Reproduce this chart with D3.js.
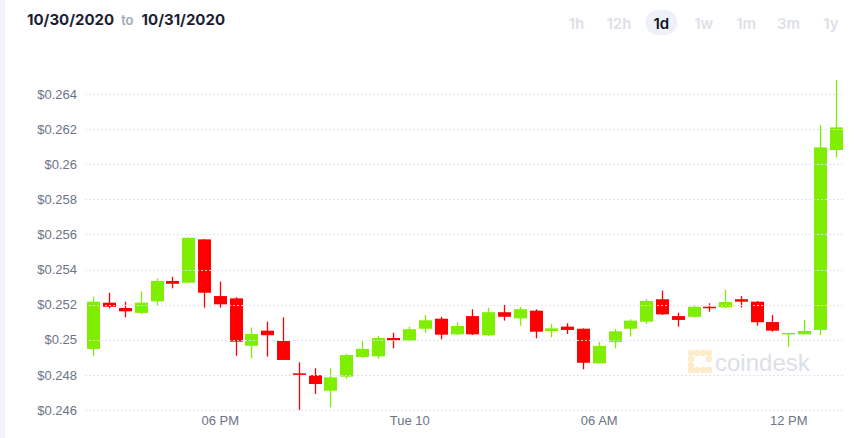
<!DOCTYPE html>
<html>
<head>
<meta charset="utf-8">
<script src="https://cdn.jsdelivr.net/npm/d3@7"></script>
<style>
  html, body { margin: 0; padding: 0; background: #fff; }
  body { width: 855px; height: 438px; overflow: hidden; }
  svg { display: block; }
</style>
</head>
<body>
<div id="chart"></div>
<script>
var width = 855
var height = 438

// half hour candles, Mon 9 Nov 14:00 -> Tue 10 Nov 13:30
var times = [
  "2020-11-09T14:00", "2020-11-09T14:30", "2020-11-09T15:00", "2020-11-09T15:30",
  "2020-11-09T16:00", "2020-11-09T16:30", "2020-11-09T17:00", "2020-11-09T17:30",
  "2020-11-09T18:00", "2020-11-09T18:30", "2020-11-09T19:00", "2020-11-09T19:30",
  "2020-11-09T20:00", "2020-11-09T20:30", "2020-11-09T21:00", "2020-11-09T21:30",
  "2020-11-09T22:00", "2020-11-09T22:30", "2020-11-09T23:00", "2020-11-09T23:30",
  "2020-11-10T00:00", "2020-11-10T00:30", "2020-11-10T01:00", "2020-11-10T01:30",
  "2020-11-10T02:00", "2020-11-10T02:30", "2020-11-10T03:00", "2020-11-10T03:30",
  "2020-11-10T04:00", "2020-11-10T04:30", "2020-11-10T05:00", "2020-11-10T05:30",
  "2020-11-10T06:00", "2020-11-10T06:30", "2020-11-10T07:00", "2020-11-10T07:30",
  "2020-11-10T08:00", "2020-11-10T08:30", "2020-11-10T09:00", "2020-11-10T09:30",
  "2020-11-10T10:00", "2020-11-10T10:30", "2020-11-10T11:00", "2020-11-10T11:30",
  "2020-11-10T12:00", "2020-11-10T12:30", "2020-11-10T13:00", "2020-11-10T13:30"
]
var open = [
  0.24948, 0.25211, 0.25181, 0.25153, 0.25219, 0.25335, 0.25325, 0.25572,
  0.25249, 0.25236, 0.24966, 0.25052, 0.24993, 0.24809, 0.24799, 0.24710,
  0.24790, 0.24902, 0.24906, 0.25010, 0.24995, 0.25063, 0.25120, 0.25031,
  0.25135, 0.25026, 0.25157, 0.25122, 0.25166, 0.25050, 0.25075, 0.25063,
  0.24866, 0.24987, 0.25063, 0.25103, 0.25231, 0.25135, 0.25131, 0.25188,
  0.25185, 0.25231, 0.25217, 0.25101, 0.25031, 0.25031, 0.25056, 0.26081
]
var high = [
  0.25245, 0.25268, 0.25217, 0.25276, 0.25350, 0.25359, 0.25582, 0.25572,
  0.25331, 0.25242, 0.25071, 0.25103, 0.25128, 0.24872, 0.24838, 0.24838,
  0.24919, 0.24993, 0.25022, 0.25040, 0.25075, 0.25141, 0.25131, 0.25100,
  0.25174, 0.25183, 0.25198, 0.25188, 0.25174, 0.25090, 0.25094, 0.25065,
  0.24989, 0.25061, 0.25117, 0.25232, 0.25280, 0.25154, 0.25198, 0.25208,
  0.25284, 0.25249, 0.25221, 0.25141, 0.25039, 0.25113, 0.26223, 0.26480
]
var low = [
  0.24909, 0.25179, 0.25128, 0.25147, 0.25192, 0.25293, 0.25322, 0.25183,
  0.25183, 0.24909, 0.24895, 0.24904, 0.24885, 0.24600, 0.24691, 0.24615,
  0.24778, 0.24898, 0.24891, 0.24951, 0.24991, 0.25040, 0.25003, 0.25027,
  0.25027, 0.25022, 0.25109, 0.25080, 0.25008, 0.25014, 0.25033, 0.24832,
  0.24866, 0.24951, 0.25018, 0.25090, 0.25141, 0.25075, 0.25126, 0.25160,
  0.25181, 0.25183, 0.25080, 0.25046, 0.24961, 0.25031, 0.25027, 0.26039
]
var close = [
  0.25217, 0.25188, 0.25162, 0.25211, 0.25335, 0.25319, 0.25581, 0.25268,
  0.25202, 0.24989, 0.25033, 0.25026, 0.24885, 0.24800, 0.24748, 0.24786,
  0.24913, 0.24948, 0.25010, 0.24997, 0.25060, 0.25111, 0.25029, 0.25079,
  0.25031, 0.25157, 0.25131, 0.25174, 0.25046, 0.25065, 0.25056, 0.24869,
  0.24965, 0.25048, 0.25109, 0.25221, 0.25145, 0.25113, 0.25188, 0.25183,
  0.25215, 0.25217, 0.25100, 0.25052, 0.25039, 0.25050, 0.26096, 0.26210
]

var yTicks = [0.246, 0.248, 0.25, 0.252, 0.254, 0.256, 0.258, 0.26, 0.262, 0.264]
var xTicks = ["2020-11-09T18:00", "2020-11-10T00:00", "2020-11-10T06:00", "2020-11-10T12:00"]
var xTickLabels = ["06 PM", "Tue 10", "06 AM", "12 PM"]
var ranges = ["1h", "12h", "1d", "1w", "1m", "3m", "1y"]
var activeRange = "1d"
var dateFrom = "10/30/2020"
var dateTo = "10/31/2020"

var parse = d3.timeParse("%Y-%m-%dT%H:%M")
var data = times.map((t, i) => ({
  t: parse(t), o: open[i], h: high[i], l: low[i], c: close[i]
}))

var GREEN = "#7fee00"
var RED = "#ff0000"

var svg = d3.select("#chart").append("svg")
    .attr("width", width)
    .attr("height", height)

// page strip on the left
svg.append("rect").attr("x", 0).attr("y", 0).attr("width", 5).attr("height", height).attr("fill", "#f0f3f8")

// header: date range
var head = svg.append("text").attr("x", 27).attr("y", 25)
    .style("font-family", "Inter, 'Open Sans', sans-serif")
head.append("tspan").text(dateFrom).attr("font-size", 15).attr("font-weight", 700).attr("fill", "#1b1e33")
head.append("tspan").text("to").attr("dx", 7).attr("font-size", 13).attr("font-weight", 600).attr("fill", "#a3a9b7")
head.append("tspan").text(dateTo).attr("dx", 8).attr("font-size", 15).attr("font-weight", 700).attr("fill", "#1b1e33")

// range buttons
var btnX = d3.scalePoint().domain(ranges).range([576.5, 831])
svg.append("rect")
    .attr("x", btnX(activeRange) - 16).attr("y", 10)
    .attr("width", 32).attr("height", 25).attr("rx", 12.5)
    .attr("fill", "#eef2f8")
svg.selectAll("text.rng").data(ranges).enter().append("text")
    .attr("class", "rng")
    .attr("x", d => btnX(d)).attr("y", 29)
    .attr("text-anchor", "middle")
    .style("font-family", "Inter, 'Open Sans', sans-serif")
    .attr("font-size", 15).attr("font-weight", 600)
    .attr("fill", d => d === activeRange ? "#111322" : "#dde0e8")
    .text(d => d)

// scales
var x = d3.scaleTime()
    .domain([parse("2020-11-09T13:44"), parse("2020-11-10T13:44")])
    .range([85, 843])
var y = d3.scaleLinear().domain([0.246, 0.264]).range([410, 94])

// watermark
var wm = svg.append("g").attr("opacity", 0.9)
var dots = [[691, 353], [697, 353], [703, 353], [709, 353], [691, 359], [691, 365], [691, 370], [697, 370], [703, 370], [709, 370], [709, 359]]
wm.selectAll("circle").data(dots).enter().append("circle")
    .attr("cx", d => d[0]).attr("cy", d => d[1]).attr("r", 3.2)
    .attr("fill", "#fdebc4")
wm.append("text").attr("x", 715).attr("y", 371)
    .style("font-family", "'Liberation Sans', Arial, sans-serif")
    .attr("font-size", 24).attr("fill", "#d9dce4")
    .text("coindesk")

// y axis labels
var yAxis = svg.append("g")
    .attr("transform", "translate(77,0)")
    .call(d3.axisLeft(y).tickValues(yTicks).tickSize(0).tickPadding(0)
      .tickFormat(d => "$" + (+d.toFixed(3))))
yAxis.select(".domain").remove()
yAxis.selectAll("text")
    .style("font-family", "'Liberation Sans', Arial, sans-serif")
    .attr("font-size", 13).attr("fill", "#6c7486")

// x axis labels
var xAxis = svg.append("g")
    .attr("transform", "translate(0,415.5)")
    .call(d3.axisBottom(x).tickValues(xTicks.map(parse)).tickSize(0).tickPadding(0)
      .tickFormat((d, i) => xTickLabels[i]))
xAxis.select(".domain").remove()
xAxis.selectAll("text")
    .style("font-family", "'Liberation Sans', Arial, sans-serif")
    .attr("font-size", 13).attr("fill", "#6c7486")

// candles
var bw = 13
var candles = svg.append("g").selectAll("g").data(data).enter().append("g")
candles.append("line")
    .attr("x1", d => Math.round(x(d.t)) + 0.5).attr("x2", d => Math.round(x(d.t)) + 0.5)
    .attr("y1", d => y(d.h)).attr("y2", d => y(d.l))
    .attr("stroke", d => d.c >= d.o ? GREEN : RED).attr("stroke-width", 1.3)
candles.append("rect")
    .attr("x", d => Math.round(x(d.t)) + 0.5 - bw / 2)
    .attr("y", d => y(Math.max(d.o, d.c)))
    .attr("width", bw)
    .attr("height", d => Math.max(1.5, Math.abs(y(d.o) - y(d.c))))
    .attr("fill", d => d.c >= d.o ? GREEN : RED)

// dotted grid on top
svg.append("g").selectAll("line").data(yTicks).enter().append("line")
    .attr("x1", 85).attr("x2", 843)
    .attr("y1", d => Math.round(y(d)) + 0.5).attr("y2", d => Math.round(y(d)) + 0.5)
    .attr("stroke", "#dfe3ee").attr("stroke-width", 1)
    .attr("stroke-dasharray", "2,2")
    .attr("opacity", 0.9)
</script>
</body>
</html>
